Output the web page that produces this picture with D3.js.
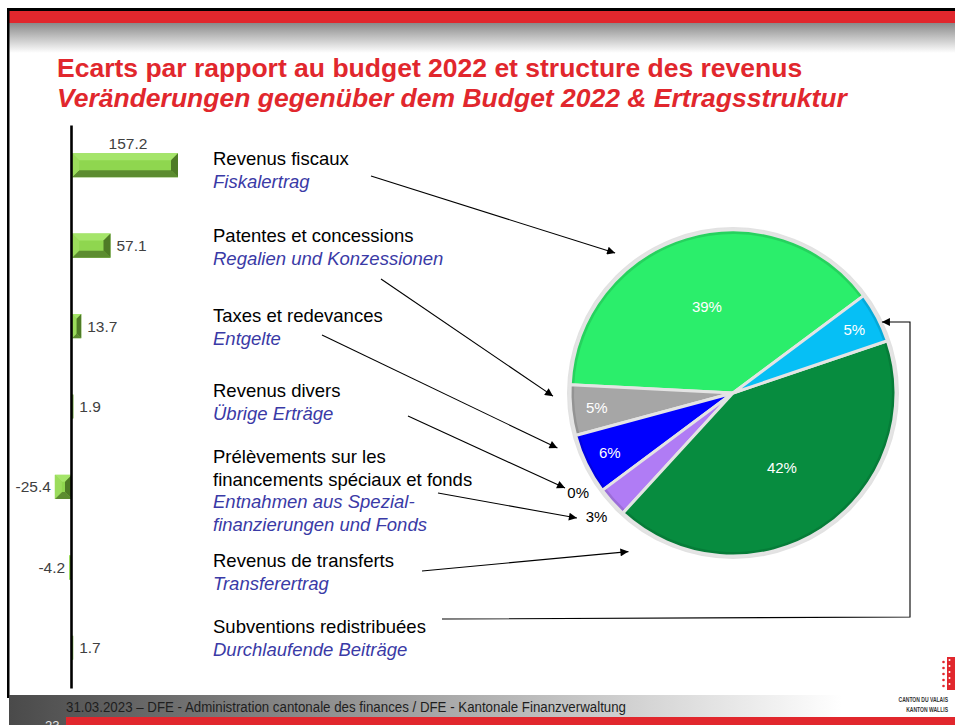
<!DOCTYPE html>
<html><head><meta charset="utf-8">
<script src="https://cdn.jsdelivr.net/npm/d3@7"></script>
<style>
body{margin:0;background:#fff;}
svg{display:block;font-family:Arial,"Liberation Sans",sans-serif;}
</style>
</head><body>
<svg id="chart" width="955" height="725"></svg>
<script>
// ---------------- DATA ----------------
const titleFr = "Ecarts par rapport au budget 2022 et structure des revenus";
const titleDe = "Veränderungen gegenüber dem Budget 2022 & Ertragsstruktur";
const categoriesFr = ["Revenus fiscaux", "Patentes et concessions", "Taxes et redevances", "Revenus divers",
  "Prélèvements sur les|financements spéciaux et fonds", "Revenus de transferts", "Subventions redistribuées"];
const categoriesDe = ["Fiskalertrag", "Regalien und Konzessionen", "Entgelte", "Übrige Erträge",
  "Entnahmen aus Spezial-|finanzierungen und Fonds", "Transferertrag", "Durchlaufende Beiträge"];
const deviations = [157.2, 57.1, 13.7, 1.9, -25.4, -4.2, 1.7];   // écarts vs budget 2022 (mio)
const shares = [39, 5, 6, 0, 3, 42, 5];                            // structure des revenus (%)
const footerText = "31.03.2023 – DFE - Administration cantonale des finances / DFE - Kantonale Finanzverwaltung";
const pageNumber = "23";
const logoLines = ["CANTON DU VALAIS", "KANTON WALLIS"];

// ---------------- STYLE / LAYOUT ----------------
const sliceColors = ["#2bee6b", "#a6a6a6", "#0000ff", "#7030a0", "#b07cf5", "#078c3f", "#06bff5"];
const red = "#e1272d";
const deBlue = "#3a3aa6";
const textBaselines = [165, 242, 322, 397, 463, 567, 633];   // first baseline of each label block
const lineGap = 22.5;
// connector arrows: start point near label, end on pie (angle in degrees clockwise from 12 o'clock, radius)
const connectors = [
  {from: [371, 176], angle: -40.1, radius: 183},
  {from: [381, 279], angle: -91.0, radius: 180},
  {from: [322, 335], angle: -107.4, radius: 184},
  {from: [408, 416], angle: -119.5, radius: 193},
  {from: [438, 493], angle: -128.7, radius: 200},
  {from: [422, 571], angle: -146.6, radius: 190},
  {from: [442, 619], angle: 64.5, radius: 165, elbowX: 910}
];

const loc = d3.formatLocale({decimal: ".", thousands: ",", grouping: [3], currency: ["", ""], minus: "-"});
const fmtVal = loc.format(".1f");
const fmtPct = loc.format(".0%");

const svg = d3.select("#chart");
const defs = svg.append("defs");

// ---------------- SLIDE CHROME ----------------
const hg = defs.append("linearGradient").attr("id", "headGrad").attr("x1", 0).attr("y1", 0).attr("x2", 0).attr("y2", 1);
hg.append("stop").attr("offset", "0%").attr("stop-color", "#8a8a8a");
hg.append("stop").attr("offset", "100%").attr("stop-color", "#ffffff");
const fg = defs.append("linearGradient").attr("id", "footGrad").attr("x1", 0).attr("y1", 0).attr("x2", 1).attr("y2", 0);
fg.append("stop").attr("offset", "0%").attr("stop-color", "#4a4a4a");
fg.append("stop").attr("offset", "88%").attr("stop-color", "#ffffff");
fg.append("stop").attr("offset", "100%").attr("stop-color", "#ffffff");

svg.append("rect").attr("width", 955).attr("height", 725).attr("fill", "#fff");
svg.append("rect").attr("x", 9).attr("y", 23).attr("width", 946).attr("height", 30).attr("fill", "url(#headGrad)");
svg.append("rect").attr("x", 9).attr("y", 11).attr("width", 946).attr("height", 12).attr("fill", red);
svg.append("rect").attr("x", 7).attr("y", 8).attr("width", 948).attr("height", 3).attr("fill", "#000");
svg.append("rect").attr("x", 7).attr("y", 8).attr("width", 2.5).attr("height", 690).attr("fill", "#000");

svg.append("rect").attr("x", 9).attr("y", 695).attr("width", 946).attr("height", 30).attr("fill", "url(#footGrad)");
svg.append("rect").attr("x", 66).attr("y", 717).attr("width", 889).attr("height", 8).attr("fill", red);
svg.append("text").attr("x", 66).attr("y", 712).attr("font-size", 14).attr("fill", "#1e1e1e")
  .attr("textLength", 560).attr("lengthAdjust", "spacingAndGlyphs").text(footerText);
svg.append("text").attr("x", 45).attr("y", 730).attr("font-size", 13).attr("fill", "#e6e6e6").text(pageNumber);

// logo
const logo = svg.append("g");
logo.append("rect").attr("x", 947).attr("y", 657).attr("width", 8).attr("height", 33).attr("fill", red);
[662, 668, 674, 680, 686].forEach(yy => {
  logo.append("circle").attr("cx", 943.5).attr("cy", yy).attr("r", 1.3).attr("fill", red);
  logo.append("circle").attr("cx", 949.5).attr("cy", yy - 2).attr("r", 1).attr("fill", "#fff");
});
logoLines.forEach((t, k) => {
  logo.append("text").attr("transform", `translate(948,${702 + k * 10}) scale(0.72,1)`)
    .attr("text-anchor", "end").attr("font-size", 7).attr("font-weight", "bold").attr("fill", "#333").text(t);
});

// ---------------- TITLES ----------------
svg.append("text").attr("x", 57).attr("y", 77).attr("font-size", 26.5).attr("font-weight", "bold")
  .attr("fill", red).text(titleFr);
svg.append("text").attr("x", 57).attr("y", 107).attr("font-size", 26.5).attr("font-weight", "bold")
  .attr("font-style", "italic").attr("fill", red).text(titleDe);

// ---------------- BAR CHART (deviations) ----------------
const axisX = 72;
const x = d3.scaleLinear().domain([0, d3.max(deviations)]).range([axisX, 178]);
const y = d3.scaleBand().domain(d3.range(deviations.length)).range([125, 688]).paddingInner(0.7).paddingOuter(0.35);

const barG = svg.append("g");
const shades = {face: "#8fd64f", top: "#a5e56a", left: "#9bdc5c", bottom: "#5c8c30", right: "#4e7b26"};
deviations.forEach((v, i) => {
  const xa = Math.min(x(0), x(v)), xb = Math.max(x(0), x(v));
  const y0 = y(i), y1 = y(i) + y.bandwidth();
  const w = xb - xa, h = y1 - y0;
  const b = Math.min(7, w / 2, h / 2);
  const poly = (pts, c) => barG.append("polygon").attr("points", pts.map(p => p.join(",")).join(" ")).attr("fill", c);
  poly([[xa, y0], [xb, y0], [xb, y1], [xa, y1]], shades.face);
  poly([[xa, y0], [xb, y0], [xb - b, y0 + b], [xa + b, y0 + b]], shades.top);
  poly([[xa, y1], [xb, y1], [xb - b, y1 - b], [xa + b, y1 - b]], shades.bottom);
  poly([[xa, y0], [xa + b, y0 + b], [xa + b, y1 - b], [xa, y1]], shades.left);
  poly([[xb, y0], [xb - b, y0 + b], [xb - b, y1 - b], [xb, y1]], shades.right);

  const lbl = barG.append("text").attr("font-size", 15.5).attr("fill", "#404040").text(fmtVal(v));
  const cy = y(i) + y.bandwidth() / 2;
  const lw = lbl.node().getComputedTextLength();
  if (v >= 0 && x(v) + 6 + lw > 200) {
    lbl.attr("x", (x(0) + x(v)) / 2 + 3).attr("y", y0 - 4).attr("text-anchor", "middle");
  } else if (v >= 0) {
    lbl.attr("x", x(v) + 6).attr("y", cy + 5.5);
  } else {
    lbl.attr("x", x(v) - 4).attr("y", cy + 5.5).attr("text-anchor", "end");
  }
});
// vertical zero axis
svg.append("g").attr("transform", `translate(${axisX - 1},0)`)
  .call(d3.axisLeft(y).tickSize(0).tickSizeOuter(0).tickFormat(""))
  .call(g => g.select(".domain").attr("stroke", "#000").attr("stroke-width", 2.6));

// ---------------- CATEGORY LABELS ----------------
const labG = svg.append("g");
categoriesFr.forEach((fr, i) => {
  const lines = fr.split("|").map(t => ({t, de: false})).concat(categoriesDe[i].split("|").map(t => ({t, de: true})));
  lines.forEach((ln, k) => {
    labG.append("text").attr("x", 213).attr("y", textBaselines[i] + k * lineGap)
      .attr("font-size", 18.5).attr("fill", ln.de ? deBlue : "#000")
      .attr("font-style", ln.de ? "italic" : "normal").text(ln.t);
  });
});

// ---------------- PIE (structure) ----------------
const cx = 733, cy = 393, R = 163;
const a0 = 53.3 * Math.PI / 180;
const pie = d3.pie().sort(null).value(d => d).startAngle(a0).endAngle(a0 - 2 * Math.PI);
const arcs = pie(shares);
const arcOuter = d3.arc().innerRadius(0).outerRadius(R);
const arcFace = d3.arc().innerRadius(0).outerRadius(R - 4);
const pieG = svg.append("g").attr("transform", `translate(${cx},${cy})`);
pieG.append("circle").attr("r", R + 1.5).attr("fill", "none").attr("stroke", "#e2e2e2").attr("stroke-width", 3);
arcs.forEach((a, i) => {
  if (a.value === 0) return;
  pieG.append("path").attr("d", arcOuter(a)).attr("fill", d3.color(sliceColors[i]).darker(0.35));
  pieG.append("path").attr("d", arcFace(a)).attr("fill", sliceColors[i]);
  pieG.append("path").attr("d", arcOuter(a)).attr("fill", "none").attr("stroke", "#e4e4e4").attr("stroke-width", 3)
    .attr("stroke-linejoin", "round");
});
// labels: large slices inside, thin slices outside with simple collision avoidance
const total = d3.sum(shares);
const outside = [];
arcs.forEach((a, i) => {
  const mid = (a.startAngle + a.endAngle) / 2;
  const pct = a.value / total;
  let r, col;
  if (pct < 0.04) { r = R + 21; col = "#000"; }
  else if (pct < 0.1) { r = R * 0.84; col = "#fff"; }
  else { r = R * 0.55; col = "#fff"; }
  const item = {x: r * Math.sin(mid), y: -r * Math.cos(mid), r, col, text: fmtPct(pct)};
  if (pct < 0.04) outside.push(item);
  else pieG.append("text").attr("x", item.x).attr("y", item.y).attr("dy", "0.35em")
    .attr("text-anchor", "middle").attr("font-size", 15).attr("fill", col).text(item.text);
});
outside.sort((p, q) => q.y - p.y);
for (let k = 1; k < outside.length; k++) {
  if (outside[k - 1].y - outside[k].y < 24) {
    outside[k].y = outside[k - 1].y - 24;
    outside[k].x = -Math.sqrt(Math.max(0, outside[k].r ** 2 - outside[k].y ** 2));
  }
}
outside.forEach(o => pieG.append("text").attr("x", o.x).attr("y", o.y).attr("dy", "0.35em")
  .attr("text-anchor", "middle").attr("font-size", 15).attr("fill", o.col).text(o.text));

// ---------------- CONNECTOR ARROWS ----------------
defs.append("marker").attr("id", "arrow").attr("viewBox", "0 0 10 10").attr("refX", 10).attr("refY", 5)
  .attr("markerWidth", 11).attr("markerHeight", 8).attr("markerUnits", "userSpaceOnUse").attr("orient", "auto")
  .append("path").attr("d", "M0,0L10,5L0,10z").attr("fill", "#000");
const conG = svg.append("g");
connectors.forEach(c => {
  const ang = c.angle * Math.PI / 180;
  const ex = cx + c.radius * Math.sin(ang), ey = cy - c.radius * Math.cos(ang);
  const path = d3.path();
  path.moveTo(c.from[0], c.from[1]);
  if (c.elbowX) {
    path.lineTo(c.elbowX, c.from[1] - 2);
    path.lineTo(c.elbowX, ey);
  }
  path.lineTo(ex, ey);
  conG.append("path").attr("d", path.toString()).attr("fill", "none").attr("stroke", "#000")
    .attr("stroke-width", 1.1).attr("marker-end", "url(#arrow)");
});
</script>
</body></html>
